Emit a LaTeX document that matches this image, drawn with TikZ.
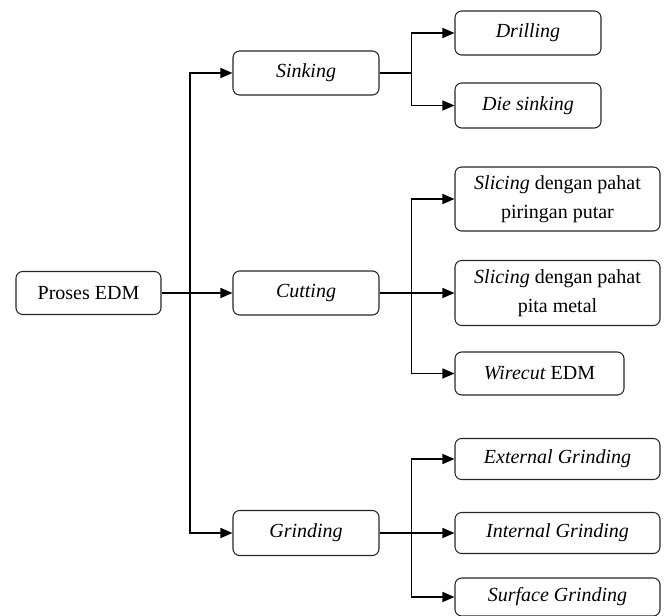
\documentclass[tikz,border=0pt]{standalone}
\usepackage{fontspec}
\setmainfont{Liberation Serif}
\usetikzlibrary{arrows.meta}
\begin{document}
\begin{tikzpicture}[x=0.75pt,y=-0.75pt,
  box/.style={draw=black!85,line width=0.8pt,rounded corners=5pt,align=center,inner sep=0pt,
    font=\fontsize{15}{17}\selectfont},
  arr/.style={line width=1.1pt,-{Triangle[length=9pt,width=7.5pt]}}]
\useasboundingbox (0,0) rectangle (666,616);
\node[box,minimum width=145*0.75pt,minimum height=43*0.75pt] (edm) at (88.5,293) {Proses EDM};
\node[box,minimum width=146*0.75pt,minimum height=44*0.75pt] (sink) at (306,73) {\textit{Sinking}};
\node[box,minimum width=146*0.75pt,minimum height=44*0.75pt] (cut) at (306,293) {\textit{Cutting}};
\node[box,minimum width=146*0.75pt,minimum height=45*0.75pt] (grind) at (306,533) {\textit{Grinding}};
\node[box,minimum width=146*0.75pt,minimum height=44*0.75pt] (drill) at (528,33) {\textit{Drilling}};
\node[box,minimum width=146*0.75pt,minimum height=45*0.75pt] (die) at (528,105.5) {\textit{Die sinking}};
\node[box,minimum width=205*0.75pt,minimum height=64*0.75pt] (sl1) at (557.5,199) {\textit{Slicing} dengan pahat\\[5pt]piringan putar};
\node[box,minimum width=205*0.75pt,minimum height=65*0.75pt] (sl2) at (557.5,293) {\textit{Slicing} dengan pahat\\[5pt]pita metal};
\node[box,minimum width=169*0.75pt,minimum height=43*0.75pt] (wire) at (539.5,373.5) {\textit{Wirecut} EDM};
\node[box,minimum width=205*0.75pt,minimum height=41*0.75pt] (ext) at (557.5,459) {\textit{External Grinding}};
\node[box,minimum width=205*0.75pt,minimum height=41*0.75pt] (int) at (557.5,533) {\textit{Internal Grinding}};
\node[box,minimum width=205*0.75pt,minimum height=38*0.75pt] (surf) at (557.5,597) {\textit{Surface Grinding}};
% trunk
\coordinate (t) at (190,293);
\draw[arr] (edm.east) -- (cut.west);
\draw[arr] (t) |- (sink.west);
\draw[arr] (t) |- (grind.west);
% sinking
\draw[arr] (sink.east) -- ++(32,0) |- (drill.west);
\draw[arr] (sink.east) -- ++(32,0) |- (die.west);
% cutting
\draw[arr] (cut.east) -- (sl2.west);
\draw[arr] (cut.east) -- ++(32,0) |- (sl1.west);
\draw[arr] (cut.east) -- ++(32,0) |- (wire.west);
% grinding
\draw[arr] (grind.east) -- (int.west);
\draw[arr] (grind.east) -- ++(32,0) |- (ext.west);
\draw[arr] (grind.east) -- ++(32,0) |- (surf.west);
\end{tikzpicture}
\end{document}
